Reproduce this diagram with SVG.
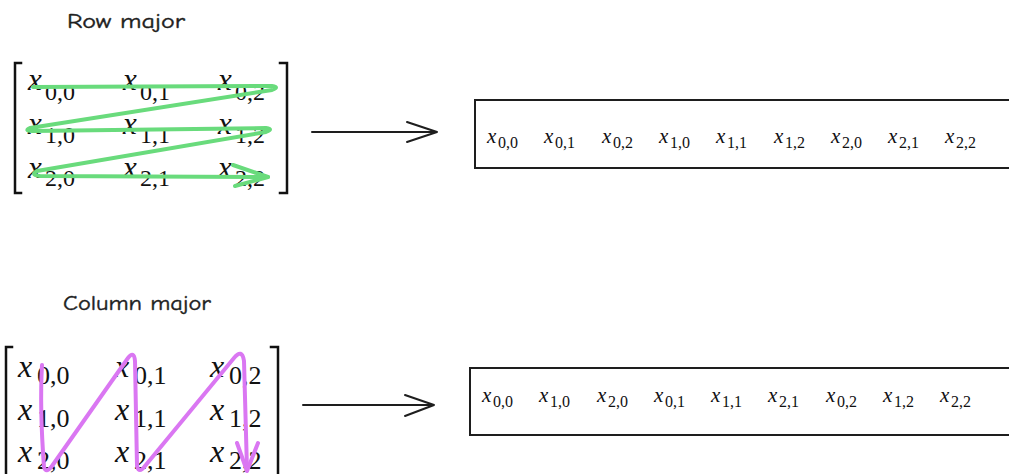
<svg xmlns="http://www.w3.org/2000/svg" width="1009" height="474" viewBox="0 0 1009 474">
<style>
.title{font-family:"Comic Neue","Noto Sans","Liberation Sans",sans-serif;font-size:21px;fill:#1e1e1e;stroke:#1e1e1e;stroke-width:0.4}
.mx{font-family:"Liberation Serif","DejaVu Serif",serif;font-style:italic;fill:#111}
.ms{font-family:"Liberation Serif","DejaVu Serif",serif;fill:#111}
.bk{fill:none;stroke:#111;stroke-width:2.5;stroke-linecap:square}
.box{fill:none;stroke:#1e1e1e;stroke-width:2}
.arr{fill:none;stroke:#1e1e1e;stroke-width:2;stroke-linecap:round;stroke-linejoin:round}
.green{fill:none;stroke:#69db7c;stroke-width:4;stroke-linecap:round;stroke-linejoin:round}
.pink{fill:none;stroke:#da77f2;stroke-width:4;stroke-linecap:round;stroke-linejoin:round}
.big .mx{font-size:31px}
.big .ms{font-size:24px}
.big2 .mx{font-size:32px}
.big2 .ms{font-size:26px}
.sm .mx{font-size:21px}
.sm .ms{font-size:16px}
</style>
<rect width="1009" height="474" fill="#fff"/>

<g id="title-row"><text class="title" x="67" y="28" textLength="118" lengthAdjust="spacingAndGlyphs">Row major</text></g>

<g id="matrix-row" class="big">
<path class="bk" d="M21,63 L15,63 L15,193 L21,193"/>
<path class="bk" d="M280,63 L287,63 L287,193 L280,193"/>
<text class="mx" x="28" y="90">x</text><text class="ms" x="45" y="100">0,0</text>
<text class="mx" x="123" y="90">x</text><text class="ms" x="140" y="100">0,1</text>
<text class="mx" x="218" y="90">x</text><text class="ms" x="235" y="100">0,2</text>
<text class="mx" x="28" y="134">x</text><text class="ms" x="45" y="143">1,0</text>
<text class="mx" x="123" y="134">x</text><text class="ms" x="140" y="143">1,1</text>
<text class="mx" x="218" y="134">x</text><text class="ms" x="235" y="143">1,2</text>
<text class="mx" x="28" y="178">x</text><text class="ms" x="45" y="186">2,0</text>
<text class="mx" x="123" y="178">x</text><text class="ms" x="140" y="186">2,1</text>
<text class="mx" x="218" y="178">x</text><text class="ms" x="235" y="186">2,2</text>
<path class="green" d="M33,87 L272,86 Q280,87 272,90 L30,128 Q24,131 32,131 L266,128 Q274,129 266,132 L37,171 Q30,175 40,176 L268,177"/>
<path class="green" d="M233,165 L268,177 L235,186"/>
</g>

<g id="strip-row" class="sm">
<rect class="box" x="475" y="100" width="600" height="68"/>
<text class="mx" x="487" y="143">x</text><text class="ms" x="498" y="148">0,0</text>
<text class="mx" x="544" y="143">x</text><text class="ms" x="555" y="148">0,1</text>
<text class="mx" x="602" y="143">x</text><text class="ms" x="613" y="148">0,2</text>
<text class="mx" x="659" y="143">x</text><text class="ms" x="670" y="148">1,0</text>
<text class="mx" x="716" y="143">x</text><text class="ms" x="727" y="148">1,1</text>
<text class="mx" x="774" y="143">x</text><text class="ms" x="785" y="148">1,2</text>
<text class="mx" x="831" y="143">x</text><text class="ms" x="842" y="148">2,0</text>
<text class="mx" x="888" y="143">x</text><text class="ms" x="899" y="148">2,1</text>
<text class="mx" x="945" y="143">x</text><text class="ms" x="956" y="148">2,2</text>
</g>

<g id="title-col"><text class="title" x="63" y="310" textLength="148" lengthAdjust="spacingAndGlyphs">Column major</text></g>

<g id="matrix-col" class="big2">
<path class="bk" d="M12,347 L6,347 L6,480"/>
<path class="bk" d="M271,347 L278,347 L278,480"/>
<text class="mx" x="18" y="377">x</text><text class="ms" x="37" y="384">0,0</text>
<text class="mx" x="115" y="377">x</text><text class="ms" x="134" y="384">0,1</text>
<text class="mx" x="210" y="377">x</text><text class="ms" x="229" y="384">0,2</text>
<text class="mx" x="18" y="420">x</text><text class="ms" x="37" y="427">1,0</text>
<text class="mx" x="115" y="420">x</text><text class="ms" x="134" y="427">1,1</text>
<text class="mx" x="210" y="420">x</text><text class="ms" x="229" y="427">1,2</text>
<text class="mx" x="18" y="462">x</text><text class="ms" x="37" y="469">2,0</text>
<text class="mx" x="115" y="462">x</text><text class="ms" x="134" y="469">2,1</text>
<text class="mx" x="210" y="462">x</text><text class="ms" x="229" y="469">2,2</text>
<path class="pink" d="M42,365 C40,400 42,440 44,467 Q46,474 52,466 L128,358 Q134,350 135,361 L137,466 Q139,474 145,466 L234,358 Q242,348 244,361 L247,470"/>
<path class="pink" d="M237,443 L247,471 L258,443"/>
</g>

<g id="strip-col" class="sm">
<rect class="box" x="470" y="368" width="600" height="67"/>
<text class="mx" x="482" y="402">x</text><text class="ms" x="493" y="407">0,0</text>
<text class="mx" x="539" y="402">x</text><text class="ms" x="550" y="407">1,0</text>
<text class="mx" x="597" y="402">x</text><text class="ms" x="608" y="407">2,0</text>
<text class="mx" x="654" y="402">x</text><text class="ms" x="665" y="407">0,1</text>
<text class="mx" x="711" y="402">x</text><text class="ms" x="722" y="407">1,1</text>
<text class="mx" x="768" y="402">x</text><text class="ms" x="779" y="407">2,1</text>
<text class="mx" x="826" y="402">x</text><text class="ms" x="837" y="407">0,2</text>
<text class="mx" x="883" y="402">x</text><text class="ms" x="894" y="407">1,2</text>
<text class="mx" x="940" y="402">x</text><text class="ms" x="951" y="407">2,2</text>
</g>

<g id="connectors">
<path class="arr" d="M312,132 L437,132 M407,122 L437,132 L407,142"/>
<path class="arr" d="M303,405 L434,405 M405,395 L434,405 L405,416"/>
</g>
</svg>
